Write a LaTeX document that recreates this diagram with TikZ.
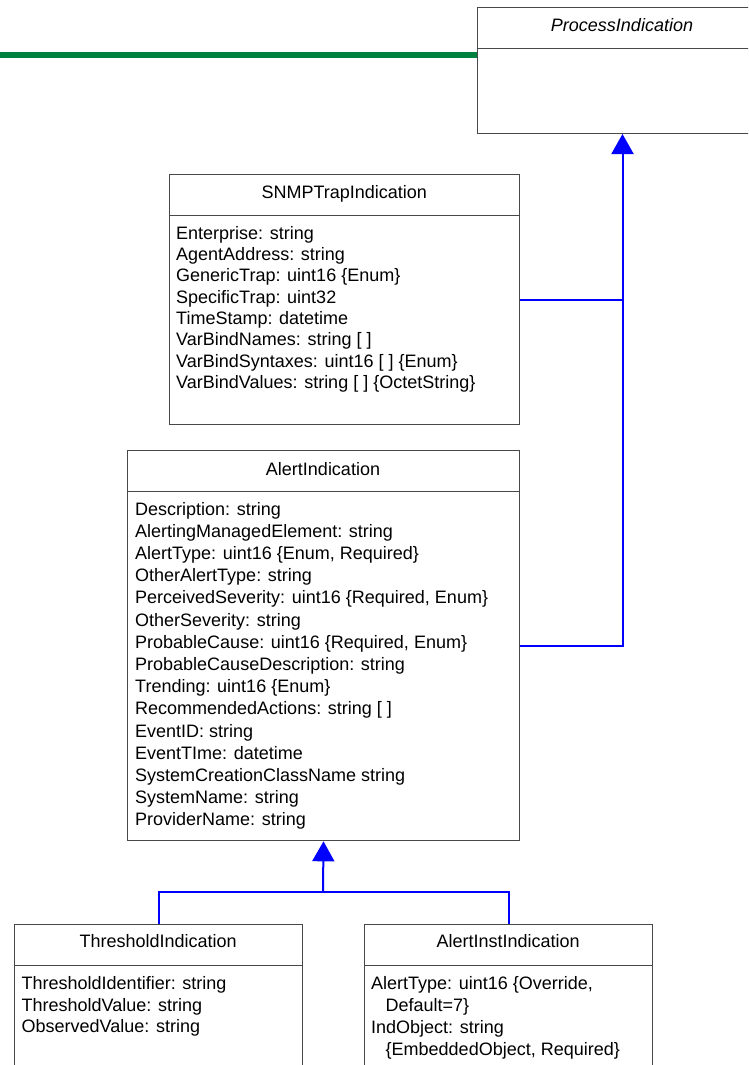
\documentclass[tikz,border=0pt]{standalone}
\usepackage{fontspec}
\setmainfont{Liberation Sans}
\usetikzlibrary{arrows.meta}
\definecolor{boxline}{RGB}{72,72,72}
\definecolor{assocgreen}{RGB}{0,128,62}
\definecolor{genblue}{RGB}{0,0,255}
\newcommand{\umlsize}{\fontsize{18}{21}\selectfont}
\tikzset{
  cls/.style={draw=boxline, line width=1pt, fill=white, inner sep=0pt, anchor=north west},
  divider/.style={draw=boxline, line width=1pt},
  ctitle/.style={anchor=base, inner sep=0pt, font=\umlsize},
  attr/.style={anchor=base west, inner sep=0pt, font=\umlsize},
  gen/.style={draw=genblue, line width=2pt},
  genhead/.style={gen, -{Triangle[width=22pt,length=20pt]}},
  assoc/.style={draw=assocgreen, line width=6pt},
}
\begin{document}
\begin{tikzpicture}[x=1pt,y=-1pt]
\useasboundingbox (0,0) rectangle (748,1065);
\clip (0,0) rectangle (748,1065);

% ---- class boxes ----
\node[cls, minimum width=290pt, minimum height=125.7pt] (proc) at (477,7.3) {};
\draw[divider] (477,49) -- (767,49);
\node[ctitle, font=\umlsize\itshape] (proc-t) at (622,31.7) {ProcessIndication};

\node[cls, minimum width=350pt, minimum height=249.7pt] (snmp) at (169.3,174.3) {};
\draw[divider] (169.3,215.7) -- (519.3,215.7);
\node[ctitle] (snmp-t) at (344.3,198.3) {SNMPTrapIndication};
\foreach \t [count=\i] in {Enterprise: string, AgentAddress: string,
  GenericTrap: uint16 \{Enum\}, SpecificTrap: uint32, TimeStamp: datetime,
  VarBindNames: string [ ], VarBindSyntaxes: uint16 [ ] \{Enum\},
  VarBindValues: string [ ] \{OctetString\}}
  \node[attr] (snmp-\i) at (176,{239+21.35*(\i-1)}) {\t};

\node[cls, minimum width=391.4pt, minimum height=390.3pt] (alert) at (127.3,450) {};
\draw[divider] (127.3,491.3) -- (518.7,491.3);
\node[ctitle] (alert-t) at (323,475) {AlertIndication};
\foreach \t [count=\i] in {Description: string, AlertingManagedElement: string,
  {AlertType: uint16 \{Enum, Required\}}, OtherAlertType: string,
  {PerceivedSeverity: uint16 \{Required, Enum\}}, OtherSeverity: string,
  {ProbableCause: uint16 \{Required, Enum\}}, ProbableCauseDescription: string,
  Trending: uint16 \{Enum\}, RecommendedActions: string [ ], EventID: string,
  EventTIme: datetime, SystemCreationClassName string, SystemName: string,
  ProviderName: string}
  \node[attr] (alert-\i) at (135,{515+22.2*(\i-1)}) {\t};

\node[cls, minimum width=287.7pt, minimum height=200pt] (thr) at (14.3,923.7) {};
\draw[divider] (14.3,965.3) -- (302,965.3);
\node[ctitle] (thr-t) at (158.2,947.7) {ThresholdIndication};
\foreach \t [count=\i] in {ThresholdIdentifier: string, ThresholdValue: string,
  ObservedValue: string}
  \node[attr] (thr-\i) at (21.5,{989.3+21.7*(\i-1)}) {\t};

\node[cls, minimum width=288.2pt, minimum height=200pt] (inst) at (364,923.7) {};
\draw[divider] (364,965.3) -- (652.2,965.3);
\node[ctitle] (inst-t) at (508.1,947.7) {AlertInstIndication};
\node[attr] (inst-1) at (371,989.3) {AlertType: uint16 \{Override,};
\node[attr] (inst-2) at (385.5,1011.3) {Default=7\}};
\node[attr] (inst-3) at (371,1033.3) {IndObject: string};
\node[attr] (inst-4) at (385.5,1055.3) {\{EmbeddedObject, Required\}};

% ---- association leaving the picture on the left ----
\coordinate (assoc-end) at (0,55.5);
\draw[assoc] (assoc-end) -- (assoc-end -| proc.west);

% ---- generalisation to ProcessIndication ----
\draw[gen] (snmp.east) -- (snmp.east -| proc.south);
\draw[genhead] (alert.east) -| (proc.south);

% ---- generalisation to AlertIndication ----
\coordinate (bus) at (323,892.3);
\draw[gen] (thr.north) |- (bus) -| (inst.north);
\draw[genhead] (bus) -- (alert.south);
\end{tikzpicture}
\end{document}
